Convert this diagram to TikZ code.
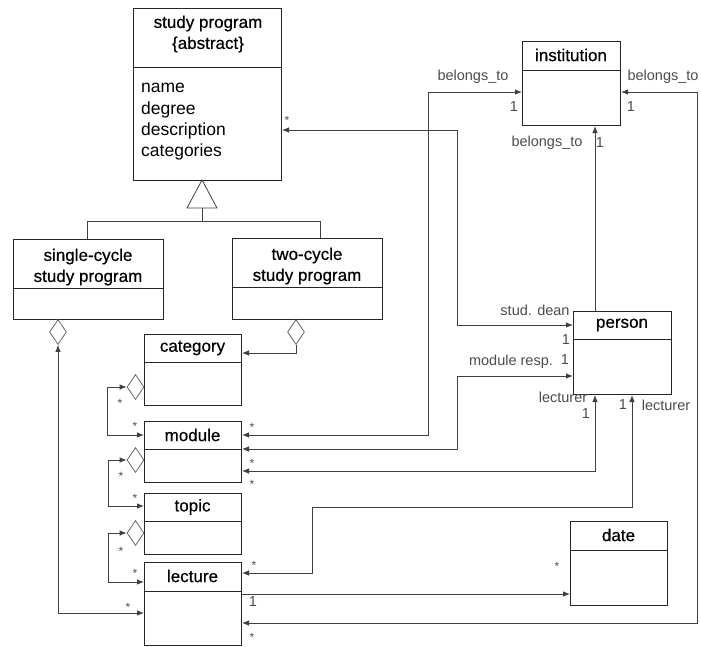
\documentclass[tikz,border=0pt]{standalone}
\usepackage{fontspec}
\setmainfont{Liberation Sans}
\newfontfamily\clsfont[FakeBold=0.5]{Liberation Sans}
\usetikzlibrary{arrows.meta,shapes.geometric}

\begin{document}
\begin{tikzpicture}[x=1pt,y=-1pt,>={Latex[length=7pt,width=5.5pt]},
    cls/.style={draw=black!85,line width=1pt,anchor=north west,inner sep=0pt},
    div/.style={draw=black!85,line width=1pt},
    ttl/.style={font=\fontsize{17}{21}\clsfont,align=center,inner sep=0pt},
    attr/.style={font=\fontsize{17.5}{21}\selectfont,anchor=base west,inner sep=0pt},
    lbl/.style={font=\fontsize{14.5}{16}\selectfont,text=black!70,inner sep=0pt},
    mult/.style={font=\fontsize{12}{12}\selectfont,text=black!70,inner sep=0pt},
    agg/.style={diamond,draw=black!60,line width=0.8pt,minimum width=17pt,
      minimum height=25pt,inner sep=0pt},
    conn/.style={draw=black!75,line width=0.8pt}]

    \useasboundingbox (0,0) rectangle (701,646);

    \node[cls,minimum width=148,minimum height=172] (sp) at (133,8) {};
    \node[cls,minimum width=150,minimum height=80] (sc) at (13,239) {};
    \node[cls,minimum width=150,minimum height=81] (tc) at (232,238) {};
    \node[cls,minimum width=97,minimum height=71] (cat) at (144,334) {};
    \node[cls,minimum width=97,minimum height=61] (mod) at (144,421) {};
    \node[cls,minimum width=97,minimum height=61] (topic) at (144,493) {};
    \node[cls,minimum width=97,minimum height=83] (lec) at (144,562) {};
    \node[cls,minimum width=98,minimum height=84] (inst) at (522,41) {};
    \node[cls,minimum width=98,minimum height=83] (pers) at (573,311) {};
    \node[cls,minimum width=97,minimum height=84] (date) at (570,521) {};

    \draw[div] (sp.west |- 0,67) -- (sp.east |- 0,67);
    \draw[div] (sc.west |- 0,288) -- (sc.east |- 0,288);
    \draw[div] (tc.west |- 0,287) -- (tc.east |- 0,287);
    \draw[div] (cat.west |- 0,362) -- (cat.east |- 0,362);
    \draw[div] (mod.west |- 0,449) -- (mod.east |- 0,449);
    \draw[div] (topic.west |- 0,521) -- (topic.east |- 0,521);
    \draw[div] (lec.west |- 0,591) -- (lec.east |- 0,591);
    \draw[div] (inst.west |- 0,70) -- (inst.east |- 0,70);
    \draw[div] (pers.west |- 0,339) -- (pers.east |- 0,339);
    \draw[div] (date.west |- 0,550) -- (date.east |- 0,550);

    \node[ttl] (sp-t) at (208,34) {study program\\\{abstract\}};
    \node[ttl] (sc-t) at (88,267) {single-cycle\\study program};
    \node[ttl] (tc-t) at (307,266) {two-cycle\\study program};
    \node[ttl] (cat-t) at (192.5,348) {category};
    \node[ttl] (mod-t) at (192.5,435) {module};
    \node[ttl] (topic-t) at (192.5,507) {topic};
    \node[ttl] (lec-t) at (192.5,576) {lecture};
    \node[ttl] (inst-t) at (571,55) {institution};
    \node[ttl] (pers-t) at (622,325) {person};
    \node[ttl] (date-t) at (618.5,535) {date};

    \node[attr] (sp-a1) at (141,92.5) {name};
    \node[attr] (sp-a2) at (141,114) {degree};
    \node[attr] (sp-a3) at (141,135) {description};
    \node[attr] (sp-a4) at (141,156.5) {categories};

    \draw[conn] (202,180) -- (217,208) -- (187,208) -- cycle;
    \draw[conn] (202,208) -- (202,221) -| ([xshift=-1pt]sc.north);
    \draw[conn] (202,221) -| ([xshift=13pt]tc.north);

    \node[agg] (dsc) at (58,332) {};
    \node[agg] (dtc) at (296,332) {};
    \node[agg] (dcat) at (135.5,387) {};
    \node[agg] (dmod) at (135.5,460) {};
    \node[agg] (dtopic) at (135.5,533) {};

    \draw[conn,<->] (dsc.south) |- (lec.west |- 0,613);
    \draw[conn,->] (dtc.south) |- (cat.east |- 0,353);
    \draw[conn,<->] (dcat.west) -- (107,387) |- (mod.west |- 0,435);
    \draw[conn,<->] (dmod.west) -- (108,460) |- (topic.west |- 0,506);
    \draw[conn,<->] (dtopic.west) -- (108,533) |- (lec.west |- 0,582);

    \draw[conn,<->] (sp.east |- 0,130) -| (457,325) -- (pers.west |- 0,325);
    \draw[conn,<->] (mod.east |- 0,435) -| (428,92) -- (inst.west |- 0,92);
    \draw[conn,<->] (mod.east |- 0,449) -| (457,376) -- (pers.west |- 0,376);
    \draw[conn,<->] (mod.east |- 0,471) -| (pers.south -| 595,0);
    \draw[conn,<->] (lec.east |- 0,573) -| (312,507) -| (pers.south -| 632,0);
    \draw[conn,->] (lec.east |- 0,594) -- (date.west |- 0,594);
    \draw[conn,<->] (lec.east |- 0,623) -| (697,92) -- (inst.east |- 0,92);
    \draw[conn,->] (pers.north -| 595,0) -- (inst.south -| 595,0);

    \node[lbl] (l1) at (473,77) {belongs\_to};
    \node[lbl] (l2) at (514,107) {1};
    \node[lbl] (l3) at (663,77) {belongs\_to};
    \node[lbl] (l4) at (631,107) {1};
    \node[lbl] (l5) at (547,143) {belongs\_to};
    \node[lbl] (l6) at (600,143) {1};
    \node[lbl] (l7) at (535,310) {stud. dean};
    \node[lbl] (l8) at (566,340) {1};
    \node[lbl] (l9) at (511,362) {module resp.};
    \node[lbl] (l10) at (565,360) {1};
    \node[lbl] (l11) at (563,397) {lecturer};
    \node[lbl] (l12) at (586,414) {1};
    \node[lbl] (l13) at (623,405) {1};
    \node[lbl] (l14) at (666,405) {lecturer};
    \node[lbl] (l15) at (253,602) {1};

    \node[mult] (m1) at (287,120) {*};
    \node[mult] (m2) at (252,427) {*};
    \node[mult] (m3) at (252,463) {*};
    \node[mult] (m4) at (252,484) {*};
    \node[mult] (m5) at (254,565) {*};
    \node[mult] (m6) at (252,637) {*};
    \node[mult] (m7) at (557,566) {*};
    \node[mult] (m8) at (120,403) {*};
    \node[mult] (m9) at (135,426) {*};
    \node[mult] (m10) at (121,476) {*};
    \node[mult] (m11) at (135,498) {*};
    \node[mult] (m12) at (121,551) {*};
    \node[mult] (m13) at (135,573) {*};
    \node[mult] (m14) at (128,607) {*};
\end{tikzpicture}
\end{document}
